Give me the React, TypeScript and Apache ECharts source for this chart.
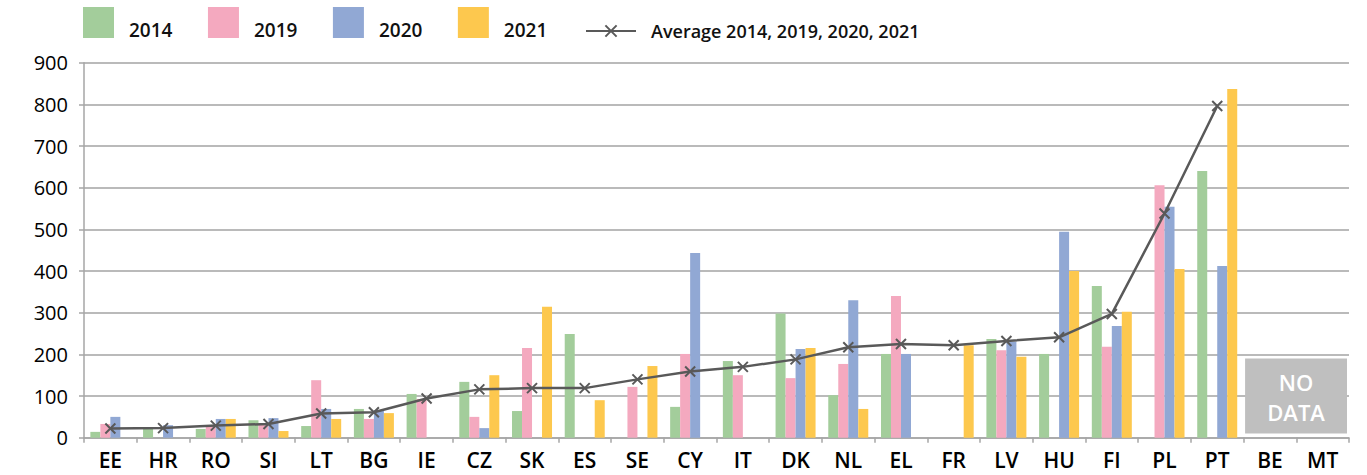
import React, { useEffect, useRef } from "react";
import * as echarts from "echarts";

const categories = ["EE", "HR", "RO", "SI", "LT", "BG", "IE", "CZ", "SK", "ES", "SE", "CY", "IT", "DK", "NL", "EL", "FR", "LV", "HU", "FI", "PL", "PT", "BE", "MT"];
const s2014 = [14, 22, 21, 42, 28, 69, 105, 134, 64, 249, null, 74, 184, 298, 102, 201, null, 237, 201, 364, null, 640, null, null];
const s2019 = [33, null, 28, 34, 138, 45, 93, 50, 215, null, 122, 201, 150, 143, 177, 340, null, 210, null, 218, 606, null, null, null];
const s2020 = [50, 30, 45, 47, 69, 66, null, 23, null, null, null, 443, null, 213, 330, 201, null, 230, 494, 268, 554, 412, null, null];
const s2021 = [null, null, 45, 16, 45, 59, null, 150, 314, 90, 172, null, null, 215, 69, null, 222, 194, 400, 302, 405, 837, null, null];
const average = [22, 23, 29, 33, 58, 61, 94, 116, 119, 119, 140, 159, 170, 188, 217, 225, 222, 232, 241, 297, 538, 796, null, null];
const yTicks = [0, 100, 200, 300, 400, 500, 600, 700, 800, 900];
const noDataCats = ["BE", "MT"];
const noDataRange = [10, 190];
const noDataText = "NO\nDATA";

const FONT = "'Open Sans', 'DejaVu Sans', sans-serif";
const COLORS = ["#a3cd9b", "#f4a9bf", "#91a8d4", "#fdc84e"];
const LINE_COLOR = "#595959";
const AVG_NAME = "Average 2014, 2019, 2020, 2021";
// square icon with an invisible extension below, so the label sits lower than the square's centre
const SQUARE_ICON = "path://M0,0H31V31H0Z M0,45L0.01,45";

export default function App() {
  const ref = useRef<HTMLDivElement>(null);
  useEffect(() => {
    if (!ref.current) return;
    const chart = echarts.init(ref.current, null, { renderer: "svg" });
    const barSeries = [
      { name: "2014", data: s2014 },
      { name: "2019", data: s2019 },
      { name: "2020", data: s2020 },
      { name: "2021", data: s2021 },
    ].map((s, i) => ({
      type: "bar",
      name: s.name,
      data: s.data,
      barWidth: 10,
      barGap: "0%",
      itemStyle: { color: COLORS[i] },
    }));
    chart.setOption({
      animation: false,
      textStyle: { fontFamily: FONT },
      legend: [
        {
          data: ["2014", "2019", "2020", "2021"],
          left: 83,
          top: 7,
          padding: 0,
          itemWidth: 31,
          itemHeight: 45,
          itemGap: 35.5,
          icon: SQUARE_ICON,
          textStyle: {
            fontFamily: FONT,
            fontSize: 19,
            fontWeight: 600,
            color: "#111",
            padding: [0, 0, 0, 10],
          },
        },
        {
          data: [AVG_NAME],
          left: 585,
          top: 22,
          padding: 0,
          itemWidth: 50,
          itemHeight: 14,
          textStyle: {
            fontFamily: FONT,
            fontSize: 18,
            fontWeight: 600,
            color: "#111",
            padding: [0, 0, 0, 10],
          },
        },
      ],
      grid: { left: 84, right: 18, top: 62.7, bottom: 37.3, containLabel: false },
      xAxis: {
        type: "category",
        data: categories,
        axisLine: { lineStyle: { color: "#a6a6a6", width: 1.5 } },
        axisTick: { show: true, length: 5, alignWithLabel: false, lineStyle: { color: "#a6a6a6", width: 1.5 } },
        axisLabel: { color: "#000", fontSize: 21, fontWeight: 600, margin: 12, fontFamily: FONT, interval: 0 },
      },
      yAxis: {
        type: "value",
        min: yTicks[0],
        max: yTicks[yTicks.length - 1],
        interval: 100,
        axisLine: { show: true, lineStyle: { color: "#a6a6a6", width: 1.5 } },
        axisTick: { show: true, length: 5, lineStyle: { color: "#a6a6a6", width: 1.5 } },
        axisLabel: { color: "#000", fontSize: 20, fontWeight: 500, margin: 16, fontFamily: FONT },
        splitLine: { lineStyle: { color: "#a3a3a3", width: 1.5 } },
      },
      series: [
        ...barSeries,
        {
          type: "line",
          name: AVG_NAME,
          data: average,
          z: 5,
          symbol: "path://M0,0L10,10M10,0L0,10",
          symbolSize: 10,
          showAllSymbol: true,
          lineStyle: { color: LINE_COLOR, width: 2.5 },
          itemStyle: { color: "none", borderColor: LINE_COLOR, borderWidth: 2 },
        },
      ],
    });

    const x0 = chart.convertToPixel({ xAxisIndex: 0 }, noDataCats[0]) as number;
    const x1 = chart.convertToPixel({ xAxisIndex: 0 }, noDataCats[noDataCats.length - 1]) as number;
    const band = (x1 - x0) / Math.max(1, noDataCats.length - 1);
    const yTop = chart.convertToPixel({ yAxisIndex: 0 }, noDataRange[1]) as number;
    const yBot = chart.convertToPixel({ yAxisIndex: 0 }, noDataRange[0]) as number;
    const left = x0 - band / 2 + 1.5;
    const right = x1 + band / 2 - 2;
    chart.setOption({
      graphic: [
        {
          type: "rect",
          shape: { x: left, y: yTop, width: right - left, height: yBot - yTop },
          style: { fill: "#bfbfbf" },
          z: 10,
        },
        {
          type: "text",
          x: (left + right) / 2,
          y: (yTop + yBot) / 2 + 1,
          z: 11,
          style: {
            text: noDataText,
            fill: "#fff",
            font: `600 22px ${FONT}`,
            align: "center",
            verticalAlign: "middle",
            lineHeight: 30,
          },
        },
      ],
    });
    return () => chart.dispose();
  }, []);
  return <div ref={ref} style={{ width: 1367, height: 475, position: "absolute", left: 0, top: 0 }} />;
}
